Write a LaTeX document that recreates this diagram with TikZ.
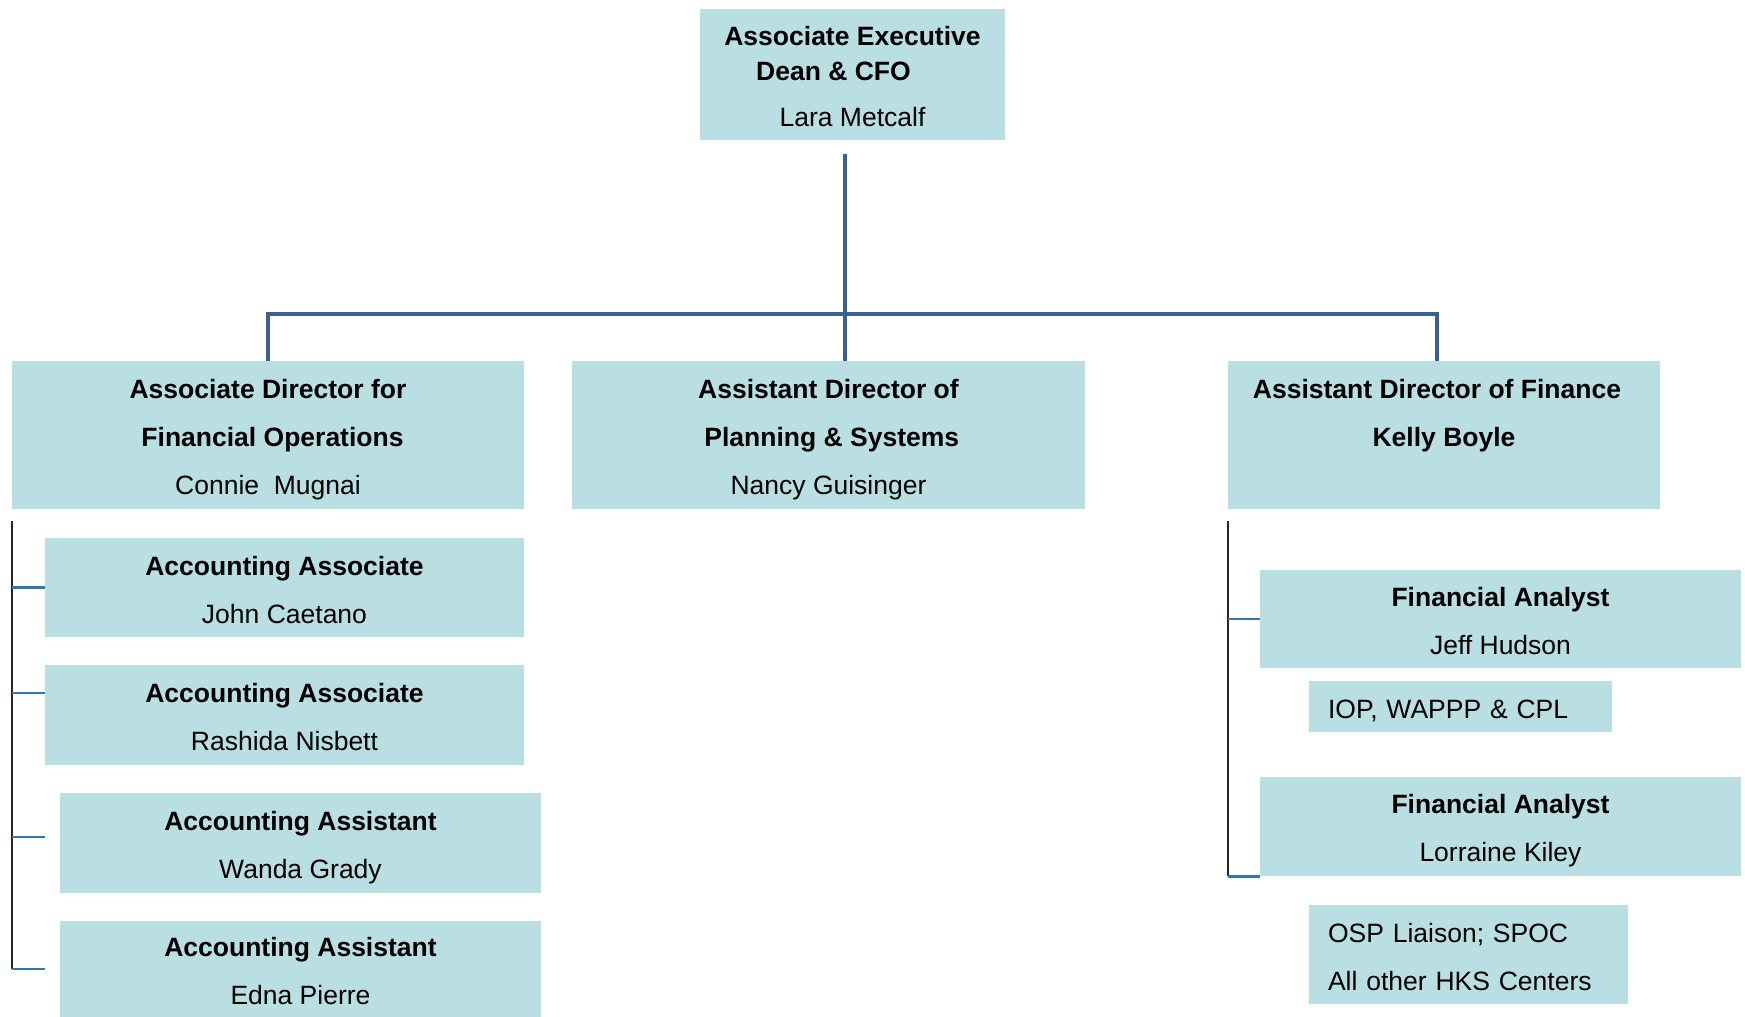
\documentclass[tikz,border=0pt]{standalone}
\usepackage{fontspec}
\setmainfont{Liberation Sans}
\definecolor{boxfill}{RGB}{185,223,227}
\definecolor{trunkblue}{RGB}{56,98,150}
\definecolor{tickblue}{RGB}{46,117,182}
\newcommand\tp{\rule{0pt}{14pt}}
\newcommand\bt{\rule[-2.5pt]{0pt}{2.5pt}}

\begin{document}
\begin{tikzpicture}[x=0.5pt, y=-0.5pt,
    post/.style={fill=boxfill, inner sep=0pt, align=center,
      font=\fontsize{13.25}{24}\selectfont},
    note/.style={post, align=left, inner xsep=9.5pt},
    trunk/.style={trunkblue, line width=1.65pt},
    tick/.style={tickblue, line width=1.1pt},
    bar/.style={black!85, line width=0.8pt}]
  \useasboundingbox (0,0) rectangle (1745,1017);

  \node [post, minimum width=152.5pt, minimum height=65.5pt,
    font=\fontsize{13.25}{17}\selectfont] (d) at (852.5,74.5)
    {\tp\textbf{Associate Executive}\\\textbf{Dean \& CFO}\rule{19pt}{0pt}\\[6pt]Lara Metcalf\bt};

  \node [post, minimum width=256pt, minimum height=74pt] (l) at (268,435)
    {\tp\textbf{Associate Director for}\\\rule{4.5pt}{0pt}\textbf{Financial Operations}\\Connie\ \ Mugnai\bt};
  \node [post, minimum width=256.5pt, minimum height=74pt] (m) at (828.5,435)
    {\tp\textbf{Assistant Director of}\\\rule{3.3pt}{0pt}\textbf{Planning \& Systems}\\Nancy Guisinger\bt};
  \node [post, minimum width=216pt, minimum height=74pt] (r) at (1444,435)
    {\tp\textbf{Assistant Director of Finance}\rule{7pt}{0pt}\\\textbf{Kelly Boyle}\\\bt};

  \node [post, minimum width=239.5pt, minimum height=49.5pt] (a1) at (284.5,587.5)
    {\tp\textbf{Accounting Associate}\\John Caetano\bt};
  \node [post, minimum width=239.5pt, minimum height=50pt] (a2) at (284.5,715)
    {\tp\textbf{Accounting Associate}\\Rashida Nisbett\bt};
  \node [post, minimum width=240.5pt, minimum height=50pt] (s1) at (300.5,843)
    {\tp\textbf{Accounting Assistant}\\Wanda Grady\bt};
  \node [post, minimum width=240.5pt, minimum height=48pt] (s2) at (300.5,969)
    {\tp\textbf{Accounting Assistant}\\Edna Pierre\bt};

  \node [post, minimum width=240.5pt, minimum height=49pt] (f1) at (1500.5,619)
    {\tp\textbf{Financial Analyst}\\Jeff Hudson\bt};
  \node [note, text width=132.5pt, minimum height=25.5pt] (n1) at (1460.5,706.5)
    {\tp IOP, WAPPP \& CPL\bt};
  \node [post, minimum width=240.5pt, minimum height=49.5pt] (f2) at (1500.5,826.5)
    {\tp\textbf{Financial Analyst}\\Lorraine Kiley\bt};
  \node [note, text width=140.5pt, minimum height=49.5pt] (n2) at (1468.5,954.5)
    {\tp OSP Liaison; SPOC\\All other HKS Centers\bt};

  \coordinate (j) at (845,314);
  \coordinate (lb) at (12,521);
  \coordinate (rb) at (1228,521);
  \coordinate (t2) at (12,693);
  \coordinate (t3) at (12,837);

  \draw [trunk, shorten <=7pt] (d.south -| j) -- (m.north -| j);
  \draw [trunk] (l.north) |- (j) -| ([xshift=-3.5pt]r.north);

  \draw [bar] (lb) -- (lb |- s2);
  \draw [tick] (lb |- a1) -- (a1.west);
  \draw [tick] (t2) -- (t2 -| a2.west);
  \draw [tick, shorten >=7.5pt] (t3) -- (t3 -| s1.west);
  \draw [tick, shorten >=7.5pt] (lb |- s2) -- (s2.west);

  \draw [bar] (rb) -- (rb |- f2.south);
  \draw [tick] (rb |- f1) -- (f1.west);
  \draw [tick] (rb |- f2.south) -- (f2.south west);
\end{tikzpicture}
\end{document}
